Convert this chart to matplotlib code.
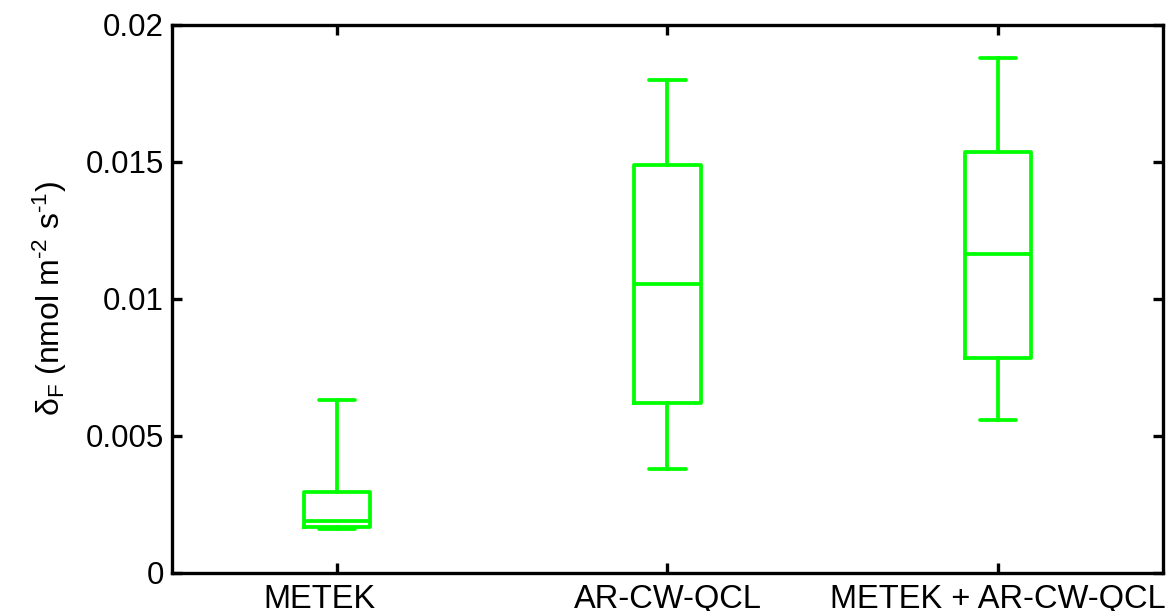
import matplotlib
matplotlib.use("Agg")
import matplotlib.pyplot as plt
import matplotlib.transforms as mtransforms

categories = ["METEK", "AR-CW-QCL", "METEK + AR-CW-QCL"]
whisker_low = [0.0016, 0.0038, 0.0056]
q1 = [0.00168, 0.0062, 0.00785]
median = [0.0019, 0.01055, 0.01165]
q3 = [0.00297, 0.0149, 0.01535]
whisker_high = [0.0063, 0.0180, 0.0188]
yticks = [0, 0.005, 0.01, 0.015, 0.02]
ytick_labels = ["0", "0.005", "0.01", "0.015", "0.02"]

plt.rcParams['font.family'] = ['Liberation Sans', 'DejaVu Sans']
plt.rcParams['mathtext.fontset'] = 'custom'
plt.rcParams['mathtext.rm'] = 'Liberation Sans'
plt.rcParams['mathtext.it'] = 'Liberation Sans:italic'
plt.rcParams['mathtext.sf'] = 'Liberation Sans'

fig = plt.figure(figsize=(11.74, 6.11), dpi=100)
ax = fig.add_axes([0.1465, 0.0622, 0.8441, 0.8969])

stats = []
for i in range(len(categories)):
    stats.append(dict(med=median[i], q1=q1[i], q3=q3[i],
                      whislo=whisker_low[i], whishi=whisker_high[i],
                      fliers=[], label=categories[i]))

green = '#00FF00'
lw = 2.7
ax.bxp(stats, positions=[1, 2, 3], widths=0.2, capwidths=0.11,
       showfliers=False,
       boxprops=dict(color=green, linewidth=lw),
       whiskerprops=dict(color=green, linewidth=lw, linestyle='-'),
       capprops=dict(color=green, linewidth=lw, solid_capstyle='round'),
       medianprops=dict(color=green, linewidth=lw))

ax.set_xlim(0.5, 3.5)
ax.set_ylim(0, 0.02)
ax.set_yticks(yticks)
ax.set_yticklabels(ytick_labels)
ax.set_xticks([1, 2, 3])
ax.set_xticklabels(categories)

for s in ax.spines.values():
    s.set_linewidth(2.4)
ax.tick_params(direction='in', length=7, width=2.4,
               top=True, right=True)
ax.tick_params(axis='y', labelsize=22.5, pad=6)
ax.tick_params(axis='x', labelsize=23.5, pad=8)

# first category label sits slightly left of its tick in the reference
lab0 = ax.get_xticklabels()[0]
lab0.set_transform(lab0.get_transform() +
                   mtransforms.ScaledTranslation(-0.18, 0, fig.dpi_scale_trans))

ax.set_ylabel(r'δ$_{\text{F}}$ (nmol m$^{\text{-2}}$ s$^{\text{-1}}$)', fontsize=23, labelpad=12)

fig.savefig("out.png", dpi=100)
